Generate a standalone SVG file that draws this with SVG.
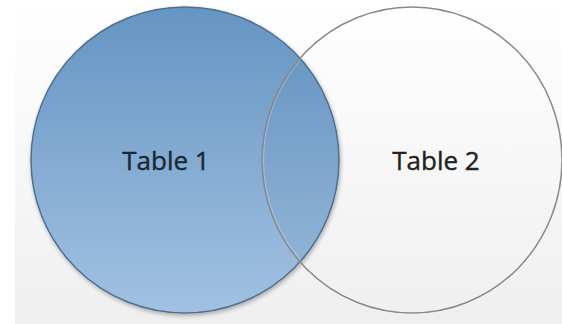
<svg xmlns="http://www.w3.org/2000/svg" width="562" height="324" viewBox="0 0 562 324">
  <defs>
    <linearGradient id="bg" x1="0" y1="0" x2="0" y2="1">
      <stop offset="0" stop-color="#ffffff"/>
      <stop offset="1" stop-color="#efefef"/>
    </linearGradient>
    <linearGradient id="blue" x1="0" y1="0" x2="0" y2="1">
      <stop offset="0" stop-color="#6595c3"/>
      <stop offset="1" stop-color="#a2c1e2"/>
    </linearGradient>
    <clipPath id="leftClip">
      <ellipse cx="185" cy="160" rx="154" ry="153"/>
    </clipPath>
    <filter id="shadow" x="-10%" y="-10%" width="120%" height="120%">
      <feGaussianBlur in="SourceAlpha" stdDeviation="2"/>
      <feOffset dx="1" dy="2" result="b"/>
      <feComponentTransfer><feFuncA type="linear" slope="0.3"/></feComponentTransfer>
      <feMerge><feMergeNode/><feMergeNode in="SourceGraphic"/></feMerge>
    </filter>
    <style>
      .lbl { font-family: "Open Sans", "Liberation Sans", sans-serif; font-size: 26px; text-anchor: middle; stroke-width: 0.4px; }
    </style>
  </defs>
  <rect x="0" y="0" width="562" height="324" fill="#ffffff"/>
  <rect x="15" y="0" width="547" height="324" fill="url(#bg)"/>
  <g id="table1">
    <ellipse cx="185" cy="160" rx="154" ry="153" fill="url(#blue)" stroke="#50708f" stroke-width="1.5" filter="url(#shadow)"/>
    <text class="lbl" x="166" y="170" fill="#1b2634" stroke="#1b2634">Table 1</text>
  </g>
  <g id="table2">
    <ellipse cx="412" cy="160" rx="150" ry="153" fill="#2f5f90" fill-opacity="0.07" stroke="none" clip-path="url(#leftClip)"/>
    <ellipse cx="412" cy="160" rx="148.5" ry="151.5" fill="none" stroke="#ffffff" stroke-opacity="0.3" stroke-width="1" clip-path="url(#leftClip)"/>
    <ellipse cx="412" cy="160" rx="150" ry="153" fill="none" stroke="#8a8a8a" stroke-width="1.5"/>
    <text class="lbl" x="436" y="170" fill="#222222" stroke="#222222">Table 2</text>
  </g>
  <g id="connectors"/>
</svg>
